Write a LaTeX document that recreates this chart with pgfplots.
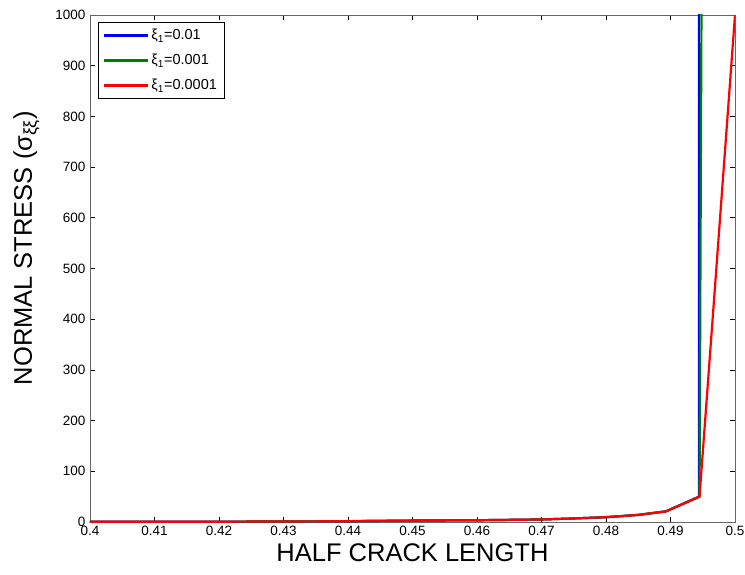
\documentclass[border=0pt]{standalone}
\usepackage{pgfplots}
\pgfplotsset{compat=1.18}
\usepackage{fontspec}
\setmainfont{Liberation Sans}

% red curve: xi_1 = 0.0001
\pgfplotstableread{
x       y
0.400   0.3
0.420   0.6
0.440   1.5
0.442   2.2
0.450   2.8
0.460   3.5
0.464   4.0
0.470   5.0
0.475   7.0
0.480   9.5
0.485   14
0.4893  21
0.4945  50
0.5000  1000
}\redtab

% blue curve: xi_1 = 0.01
\pgfplotstableread{
x       y
0.400   0.3
0.420   0.6
0.440   1.5
0.450   2.8
0.460   3.5
0.470   5.0
0.475   7.0
0.480   9.5
0.485   14
0.4893  21
0.4944  50
0.4944  1100
}\bluetab

% green curve: xi_1 = 0.001
\pgfplotstableread{
x       y
0.400   0.3
0.420   0.6
0.440   1.5
0.450   2.8
0.460   3.5
0.470   5.0
0.475   7.0
0.480   9.5
0.485   14
0.4893  21
0.4945  50
0.4948  1000
0.49482 1100
}\greentab

\definecolor{mblue}{RGB}{0,0,255}
\definecolor{mgreen}{RGB}{0,128,0}
\definecolor{mred}{RGB}{255,0,0}

\begin{document}
\begin{tikzpicture}
\begin{axis}[
  scale only axis,
  width=645pt, height=507pt,
  xmin=0.4, xmax=0.5, ymin=0, ymax=1000,
  xtick={0.4,0.41,...,0.5},
  xticklabels={0.4,0.41,0.42,0.43,0.44,0.45,0.46,0.47,0.48,0.49,0.5},
  ytick={0,100,...,1000},
  tick align=inside,
  major tick length=5pt,
  axis line style={draw=black!60, line width=0.8pt},
  every tick/.style={black, line width=0.6pt},
  tick label style={font=\fontsize{13.5}{14}\selectfont},
  /pgf/number format/assume math mode=true,
  /pgf/number format/1000 sep={},
  xticklabel style={yshift=-1pt},
  yticklabel style={xshift=-1pt},
  xlabel={HALF CRACK LENGTH},
  ylabel={NORMAL STRESS (σ\textsubscript{ξξ})},
  label style={font=\fontsize{25.5}{28}\selectfont},
  xlabel style={at={(axis description cs:0.5,0)}, anchor=north, yshift=-18pt},
  ylabel style={at={(axis description cs:-0.0985,0.54)}, anchor=center},
  legend style={at={(axis description cs:0.012,0.986)}, anchor=north west,
    font=\fontsize{14.5}{17}\selectfont, draw=black, line width=0.6pt,
    inner xsep=5pt, inner ysep=5pt, row sep=9pt},
  legend cell align=left,
  legend image code/.code={\draw[#1, line width=2.4pt] (0pt,0pt) -- (44pt,0pt);},
  clip=true,
]
\addplot[mblue, line width=2.2pt] table[x=x,y=y] {\bluetab};
\addlegendentry{ξ\textsubscript{1}=0.01}
\addplot[mgreen, line width=2.2pt] table[x=x,y=y] {\greentab};
\addlegendentry{ξ\textsubscript{1}=0.001}
\addplot[mred, line width=2.2pt] table[x=x,y=y] {\redtab};
\addlegendentry{ξ\textsubscript{1}=0.0001}
\end{axis}
\pgfresetboundingbox
\path (-90pt,-52pt) rectangle (655pt,522pt);
\end{tikzpicture}
\end{document}
